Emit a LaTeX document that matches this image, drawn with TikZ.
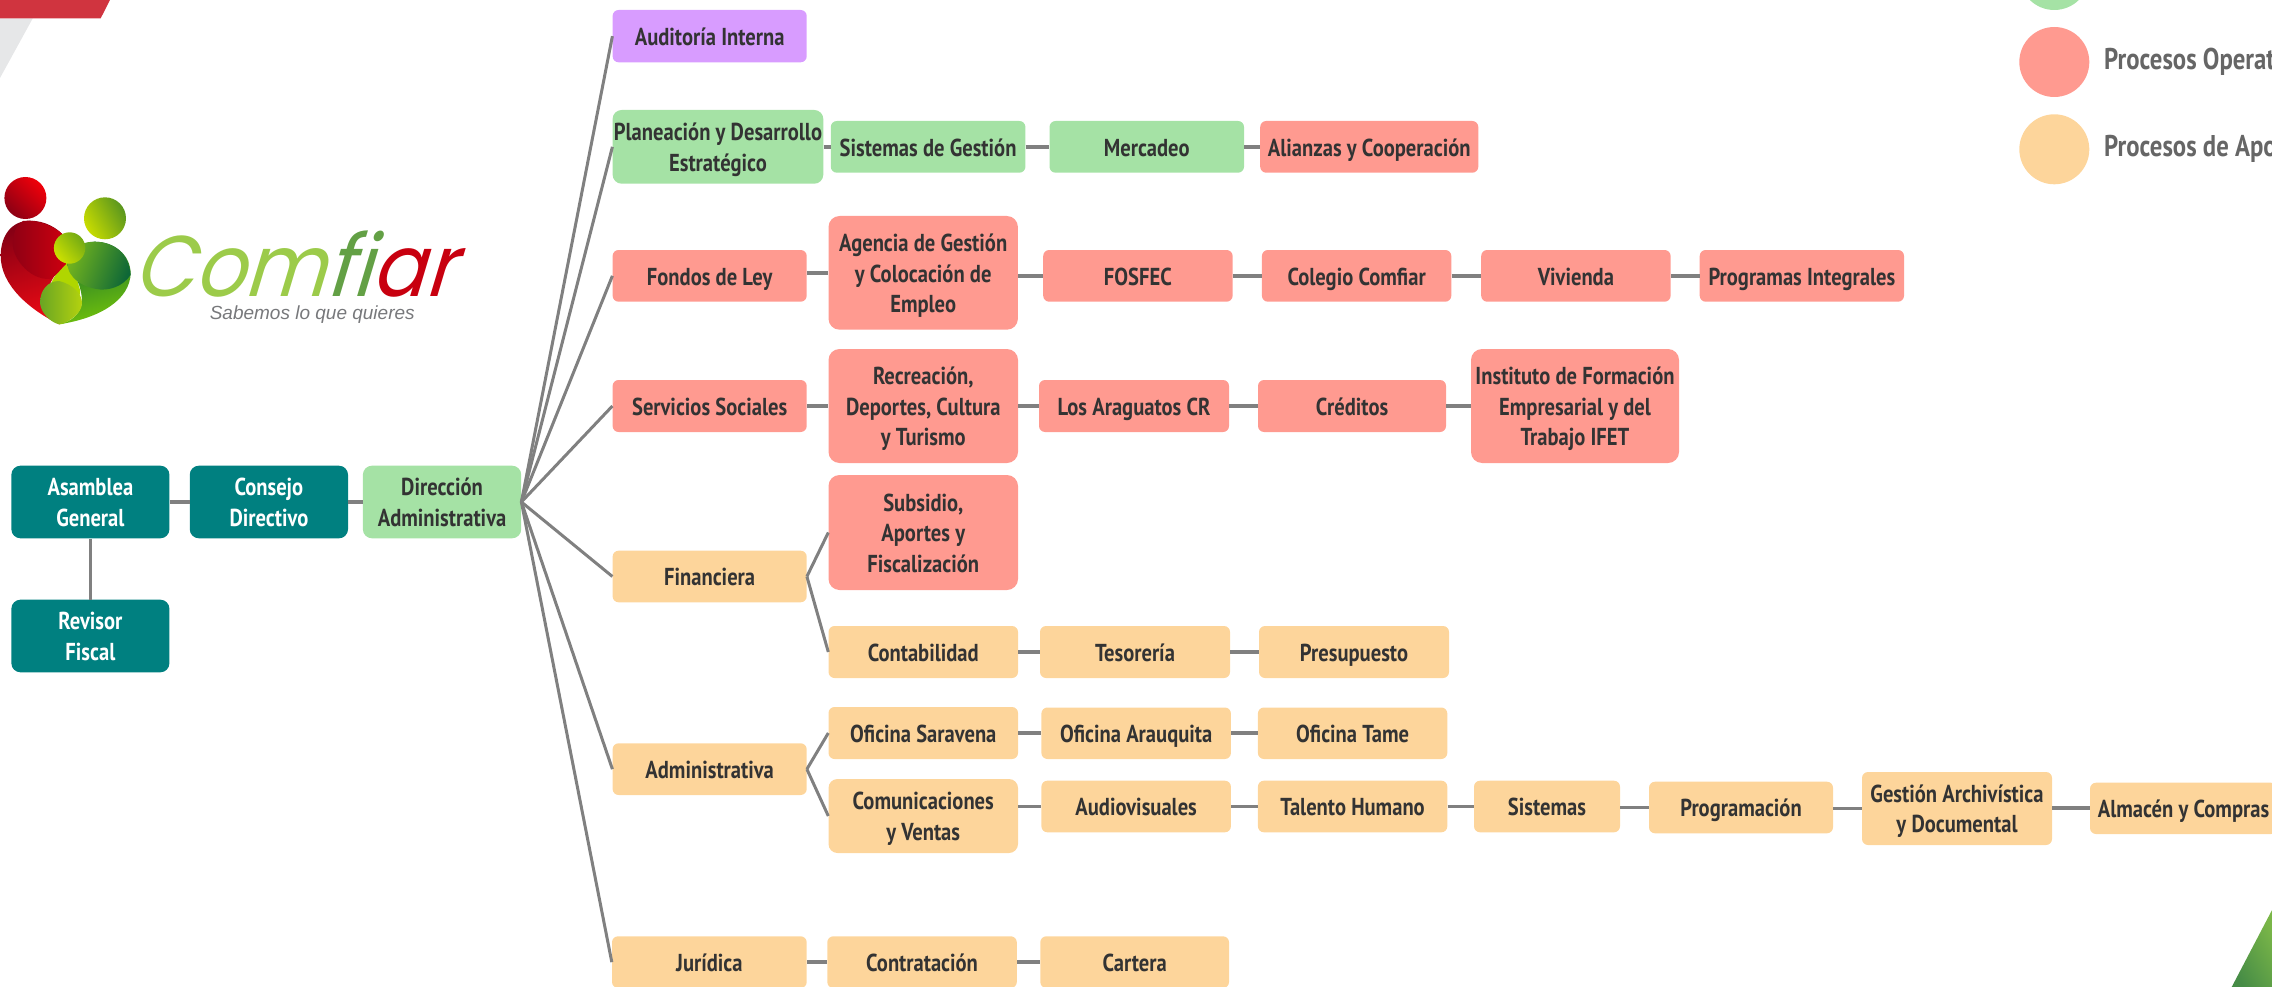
\documentclass[tikz,border=0pt]{standalone}
\usepackage{fontspec}
\setmainfont{PT Sans}
\newfontfamily\din[FakeStretch=0.84]{PT Sans}
\newfontfamily\dinleg[FakeStretch=0.825]{PT Sans}
\newfontfamily\pop[FakeStretch=0.92,FakeSlant=0.3]{Poppins}
\newfontfamily\lib{Liberation Sans}
\definecolor{teal1}{HTML}{008080}
\definecolor{greenb}{HTML}{A5E2A5}
\definecolor{redb}{HTML}{FF9A90}
\definecolor{orb}{HTML}{FDD59B}
\definecolor{purb}{HTML}{D89CFF}
\definecolor{ink}{HTML}{333333}
\definecolor{conn}{HTML}{808080}
\definecolor{lgtxt}{HTML}{666666}
\definecolor{decgrey}{HTML}{E6E7E8}
\tikzset{
 box/.style={inner sep=0pt,align=center,text=ink,rounded corners=6pt,
   font=\din\bfseries\fontsize{24.5}{30.5}\selectfont},
 tealb/.style={box,fill=teal1,text=white,rounded corners=9pt},
 grnb/.style={box,fill=greenb},
 rdb/.style={box,fill=redb},
 orgb/.style={box,fill=orb},
 prpb/.style={box,fill=purb},
 big/.style={rounded corners=11pt},
 link/.style={draw=conn,line width=3.8pt},
 fan/.style={draw=conn,line width=3pt},
 legdot/.style={circle,minimum size=70pt,inner sep=0pt},
 legtxt/.style={anchor=base west,inner sep=0pt,text=lgtxt,font=\dinleg\bfseries\fontsize{30}{36}\selectfont},
}
\newcommand{\bx}[7]{\node[#2,minimum width={(#5-#3)*1pt},minimum height={(#6-#4)*1pt}] (#1) at ({(#3+#5)/2},{(#4+#6)/2}) {\raisebox{-9.3pt}[0pt][0pt]{\begin{tabular}{@{}c@{}}#7\end{tabular}}};}
\newcommand{\lk}[2]{\draw[link] (#2.west -| #1.east) -- (#2.west);}
\newcommand{\fn}[2]{\draw[fan] (#1.east) -- (#2.west);}
\begin{document}
\begin{tikzpicture}[x=1pt,y=-1pt]
\useasboundingbox (0,0) rectangle (2272,987);
\clip (0,0) rectangle (2272,987);
% corner decorations
\fill[fill=decgrey] (0,18.3) -- (32.8,18.3) -- (0,78) -- cycle;
\fill[fill={rgb,255:red,208;green,52;blue,63}] (0,0) -- (110,0) -- (100.7,18.3) -- (0,18.3) -- cycle;
\shade[left color={rgb,255:red,122;green,182;blue,72},right color={rgb,255:red,70;green,140;blue,70},shading angle=-60] (2272,910) -- (2272,987) -- (2231.7,987) -- cycle;
% logo
\shade[left color={rgb,255:red,240;green,0;blue,10},right color={rgb,255:red,140;green,0;blue,20},shading angle=-45] (25.4,198) circle (21);
\shade[left color={rgb,255:red,200;green,220;blue,0},right color={rgb,255:red,90;green,150;blue,30},shading angle=120] (105,218.3) circle (21);
\fill[fill={rgb,255:red,176;green,214;blue,0}] (66,262) .. controls (50,280) and (40,295) .. (59,324.3) .. controls (75,324) and (80,300) .. (80,290) -- (72,262) -- cycle;
\shade[left color={rgb,255:red,235;green,10;blue,20},right color={rgb,255:red,135;green,0;blue,20},shading angle=200] (59.3,324.3) .. controls (30,310) and (0,285) .. (0.7,255) .. controls (1,235) and (12,220.7) .. (30,220.7) .. controls (45,220.7) and (58,228) .. (66,238) -- (66,262) .. controls (48,280) and (38,300) .. (59.3,324.3) -- cycle;
\shade[left color={rgb,255:red,140;green,0;blue,20},right color={rgb,255:red,205;green,0;blue,15}] (23,221) .. controls (40,219) and (58,228) .. (66,238) -- (66,264) .. controls (60,270) and (55,277) .. (50,279) .. controls (28,280) and (10,255) .. (13,240) .. controls (14,230) and (18,224) .. (23,221) -- cycle;
\shade[left color={rgb,255:red,20;green,110;blue,50},right color={rgb,255:red,115;green,195;blue,10},shading angle=15] (59.3,324.3) .. controls (100,318) and (130,300) .. (130.7,273) .. controls (130,255) and (115,241.7) .. (94.6,241.7) .. controls (75,243) and (67,255) .. (67,265) .. controls (75,275) and (82,285) .. (82,303) .. controls (80,315) and (70,322) .. (59.3,324.3) -- cycle;
\shade[left color={rgb,255:red,115;green,180;blue,30},right color={rgb,255:red,14;green,103;blue,55},shading angle=70] (67,262) .. controls (67,252) and (78,241.7) .. (94.6,241.7) .. controls (115,241.7) and (129,255) .. (130.7,275) .. controls (122,287) and (110,290) .. (100,289.5) .. controls (85,288) and (68,280) .. (67,262) -- cycle;
\shade[left color={rgb,255:red,105;green,165;blue,35},right color={rgb,255:red,180;green,210;blue,15}] (59,281) .. controls (48,281) and (40,290) .. (40,303) .. controls (41,313) and (50,322) .. (59,324.3) .. controls (70,322) and (82,313) .. (82,303) .. controls (82,295) and (75,285) .. (59,281) -- cycle;
\shade[left color={rgb,255:red,205;green,225;blue,0},right color={rgb,255:red,115;green,170;blue,20},shading angle=130] (69.6,248) circle (15.7);
\node[anchor=base west,inner sep=0pt,font=\pop\fontsize{86}{88}\selectfont] (wordmark) at (132,296) {\textcolor[HTML]{9CCB4A}{Com}\textcolor[HTML]{63A045}{fi}\textcolor[HTML]{C8000F}{ar}};
\node[anchor=base west,inner sep=0pt,text={rgb,255:red,119;green,120;blue,123},font=\lib\itshape\fontsize{19}{20}\selectfont] (slogan) at (209.6,319) {Sabemos lo que quieres};
% legend
\node[legdot,fill=greenb] (lg1) at (2054.3,-25) {};
\node[legdot,fill=redb] (lg2) at (2054.3,62) {};
\node[legdot,fill=orb] (lg3) at (2054.3,149.3) {};
\node[legtxt] (lt2) at (2104,70) {Procesos Operativos};
\node[legtxt] (lt3) at (2104,157) {Procesos de Apoyo};
% boxes
\bx{asamblea}{tealb}{11.4}{465.7}{169.4}{538.3}{Asamblea\\General}
\bx{consejo}{tealb}{189.8}{465.7}{348}{538.3}{Consejo\\Directivo}
\bx{direccion}{grnb,rounded corners=9pt}{362.9}{465.7}{521.2}{538.3}{Dirección\\Administrativa}
\bx{revisor}{tealb}{11.4}{599.7}{169.4}{672.3}{Revisor\\Fiscal}
\bx{auditoria}{prpb}{612.6}{10}{806.7}{62.3}{Auditoría Interna}
\bx{planeacion}{grnb,rounded corners=9pt}{612.6}{110}{823.3}{183.7}{Planeación y Desarrollo\\Estratégico}
\bx{sisgestion}{grnb}{830.8}{121}{1025.4}{172.7}{Sistemas de Gestión}
\bx{mercadeo}{grnb}{1049.5}{121}{1244}{172.7}{Mercadeo}
\bx{alianzas}{rdb}{1260.2}{121}{1478.3}{172.7}{Alianzas y Cooperación}
\bx{fondos}{rdb}{612.6}{250}{806.7}{301.7}{Fondos de Ley}
\bx{agencia}{rdb,big}{828.5}{216}{1017.9}{329.7}{Agencia de Gestión\\y Colocación de\\Empleo}
\bx{fosfec}{rdb}{1043.2}{250}{1232.6}{301.7}{FOSFEC}
\bx{colegio}{rdb}{1261.9}{250}{1451.3}{301.7}{Colegio Comfiar}
\bx{vivienda}{rdb}{1481.2}{250}{1670.6}{301.7}{Vivienda}
\bx{programas}{rdb}{1699.7}{250}{1904}{301.7}{Programas Integrales}
\bx{servicios}{rdb}{612.6}{380}{806.7}{432}{Servicios Sociales}
\bx{recreacion}{rdb,big}{828.5}{349}{1018}{463}{Recreación,\\Deportes, Cultura\\y Turismo}
\bx{araguatos}{rdb}{1039}{380}{1229}{432}{Los Araguatos CR}
\bx{creditos}{rdb}{1258}{380}{1446}{432}{Créditos}
\bx{instituto}{rdb,big}{1471}{349}{1679}{463}{Instituto de Formación\\Empresarial y del\\Trabajo IFET}
\bx{financiera}{orgb}{612.6}{550.7}{806.7}{602.3}{Financiera}
\bx{subsidio}{rdb,big}{828.5}{475}{1018}{590}{Subsidio,\\Aportes y\\Fiscalización}
\bx{contabilidad}{orgb}{828.5}{626}{1018}{678}{Contabilidad}
\bx{tesoreria}{orgb}{1040}{626}{1230}{678}{Tesorería}
\bx{presupuesto}{orgb}{1259}{626}{1449}{678}{Presupuesto}
\bx{administrativa}{orgb}{612.6}{743.3}{806.7}{795}{Administrativa}
\bx{saravena}{orgb}{828.5}{707}{1018}{759}{Oficina Saravena}
\bx{arauquita}{orgb}{1041.4}{707.5}{1230.9}{759}{Oficina Arauquita}
\bx{tame}{orgb}{1257.9}{707.5}{1447.3}{759}{Oficina Tame}
\bx{comunicaciones}{orgb,rounded corners=9pt}{828.5}{779}{1018}{853}{Comunicaciones\\y Ventas}
\bx{audiovisuales}{orgb}{1041.4}{780.7}{1230.9}{832.3}{Audiovisuales}
\bx{talento}{orgb}{1257.9}{780.7}{1447.3}{832.3}{Talento Humano}
\bx{sistemas}{orgb}{1474}{780.7}{1620}{832.3}{Sistemas}
\bx{programacion}{orgb}{1649}{781.7}{1833}{833.3}{Programación}
\bx{archivistica}{orgb}{1862}{772}{2052}{845}{Gestión Archivística\\y Documental}
\bx{almacen}{orgb}{2090}{782.7}{2277}{834}{Almacén y Compras}
\bx{juridica}{orgb}{612}{936.3}{806.7}{988}{Jurídica}
\bx{contratacion}{orgb}{827.3}{936.3}{1016.8}{988}{Contratación}
\bx{cartera}{orgb}{1040.3}{936.3}{1229}{988}{Cartera}
% connectors
\lk{asamblea}{consejo}\lk{consejo}{direccion}
\draw[link] (asamblea.south) -- (revisor.north);
\fn{direccion}{auditoria}\fn{direccion}{planeacion}\fn{direccion}{fondos}\fn{direccion}{servicios}
\fn{direccion}{financiera}\fn{direccion}{administrativa}\fn{direccion}{juridica}
\lk{planeacion}{sisgestion}\lk{sisgestion}{mercadeo}\lk{mercadeo}{alianzas}
\lk{fondos}{agencia}\lk{agencia}{fosfec}\lk{fosfec}{colegio}\lk{colegio}{vivienda}\lk{vivienda}{programas}
\lk{servicios}{recreacion}\lk{recreacion}{araguatos}\lk{araguatos}{creditos}\lk{creditos}{instituto}
\fn{financiera}{subsidio}\fn{financiera}{contabilidad}
\lk{contabilidad}{tesoreria}\lk{tesoreria}{presupuesto}
\fn{administrativa}{saravena}\fn{administrativa}{comunicaciones}
\lk{saravena}{arauquita}\lk{arauquita}{tame}
\lk{comunicaciones}{audiovisuales}\lk{audiovisuales}{talento}\lk{talento}{sistemas}\lk{sistemas}{programacion}\lk{programacion}{archivistica}\lk{archivistica}{almacen}
\lk{juridica}{contratacion}\lk{contratacion}{cartera}
\end{tikzpicture}
\end{document}
